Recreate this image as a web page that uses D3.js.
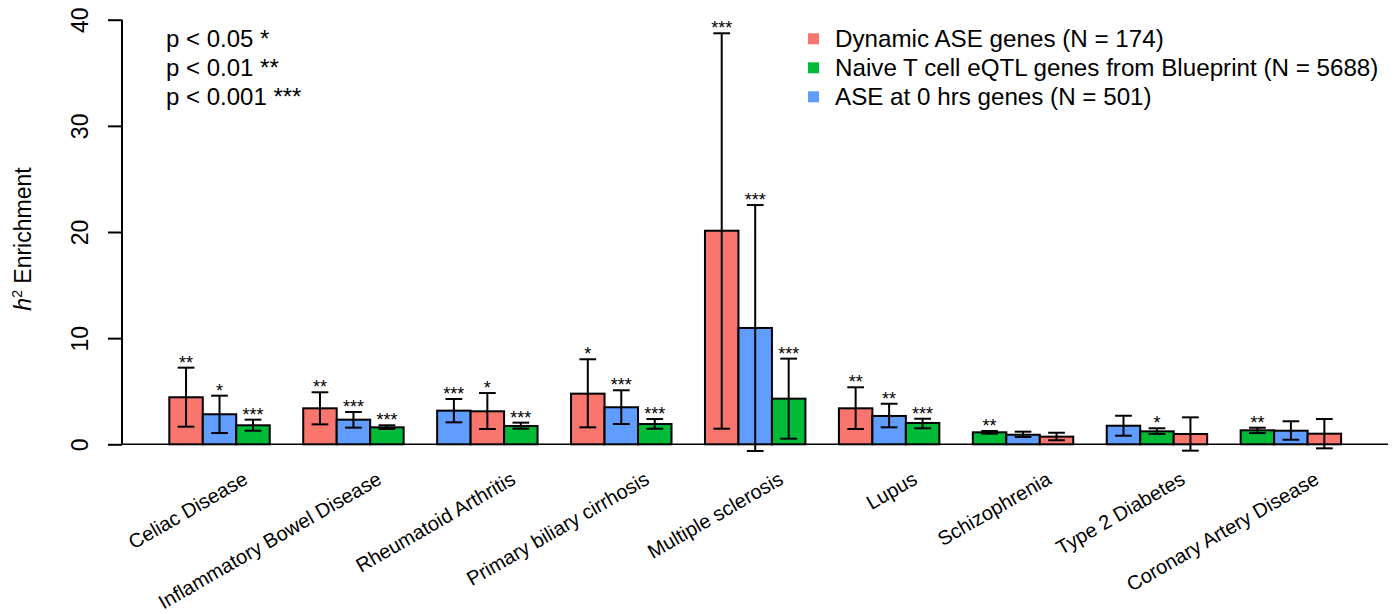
<!DOCTYPE html>
<html>
<head>
<meta charset="utf-8">
<script src="https://cdn.jsdelivr.net/npm/d3@7"></script>
<style>
  html, body { margin: 0; padding: 0; background: #fff; }
  svg { display: block; font-family: "Liberation Sans", Arial, Helvetica, sans-serif; }
</style>
</head>
<body>
<svg id="chart" width="1395" height="614"></svg>
<script>
const diseases = ["Celiac Disease", "Inflammatory Bowel Disease", "Rheumatoid Arthritis",
  "Primary biliary cirrhosis", "Multiple sclerosis", "Lupus", "Schizophrenia",
  "Type 2 Diabetes", "Coronary Artery Disease"];

const seriesNames = ["Dynamic ASE genes (N = 174)",
  "Naive T cell eQTL genes from Blueprint (N = 5688)",
  "ASE at 0 hrs genes (N = 501)"];
const seriesColors = ["#F8766D", "#00BA38", "#619CFF"];

const dynamicVals = [4.43, 3.39, 3.11, 4.77, 20.12, 3.39, 0.72, 0.97, 1.00];
const dynamicLo   = [1.66, 1.88, 1.44, 1.60, 1.47, 1.44, 0.38, -0.60, -0.38];
const dynamicHi   = [7.22, 4.90, 4.83, 8.01, 38.72, 5.37, 1.09, 2.54, 2.38];
const dynamicSig  = ["**", "**", "*", "*", "***", "**", "", "", ""];

const naiveVals = [1.79, 1.60, 1.72, 1.91, 4.30, 2.01, 1.13, 1.22, 1.32];
const naiveLo   = [1.28, 1.44, 1.47, 1.47, 0.53, 1.51, 1.00, 0.97, 1.06];
const naiveHi   = [2.32, 1.79, 2.04, 2.38, 8.07, 2.41, 1.25, 1.51, 1.56];
const naiveSig  = ["***", "***", "***", "***", "***", "***", "**", "*", "**"];

const ase0Vals = [2.83, 2.32, 3.17, 3.49, 10.96, 2.67, 0.90, 1.75, 1.28];
const ase0Lo   = [1.06, 1.57, 2.07, 1.91, -0.63, 1.60, 0.69, 0.81, 0.43];
const ase0Hi   = [4.58, 3.04, 4.27, 5.09, 22.54, 3.82, 1.19, 2.69, 2.17];
const ase0Sig  = ["*", "***", "***", "***", "***", "**", "", "", ""];

const yTicks = [0, 10, 20, 30, 40];
const pLegend = ["p < 0.05 *", "p < 0.01 **", "p < 0.001 ***"];

const series = [
  {vals: dynamicVals, lo: dynamicLo, hi: dynamicHi, sig: dynamicSig},
  {vals: naiveVals, lo: naiveLo, hi: naiveHi, sig: naiveSig},
  {vals: ase0Vals, lo: ase0Lo, hi: ase0Hi, sig: ase0Sig}
];

// Build per-bar records; within each disease bars are sorted by value (descending)
const bars = [];
diseases.forEach((d, i) => {
  const recs = series.map((s, k) => ({disease: d, series: k, value: s.vals[i], lo: s.lo[i], hi: s.hi[i], sig: s.sig[i]}));
  recs.sort((a, b) => b.value - a.value);
  recs.forEach((r, pos) => { r.pos = pos; bars.push(r); });
});

const svg = d3.select("#chart");

const y = d3.scaleLinear().domain([0, 40]).range([444.3, 19.7]);
const x0 = d3.scaleBand().domain(diseases).range([169.3, 1341.1]).paddingInner(0.25).paddingOuter(0);
const x1 = d3.scaleBand().domain([0, 1, 2]).range([0, x0.bandwidth()]);

// baseline
svg.append("line")
  .attr("x1", 122).attr("x2", 1388)
  .attr("y1", y(0)).attr("y2", y(0))
  .attr("stroke", "#000").attr("stroke-width", 1.5);

// y axis
const yAxis = svg.append("g").attr("transform", "translate(122,0)")
  .call(d3.axisLeft(y).tickValues(yTicks).tickSize(14).tickFormat(d3.format("d")));
yAxis.select(".domain").attr("stroke-width", 2).attr("d", `M0,${y(0)}V${y(40)}`);
yAxis.selectAll(".tick line").attr("stroke-width", 2);
yAxis.selectAll(".tick text")
  .attr("x", null).attr("dy", null)
  .attr("transform", "translate(-34,0) rotate(-90)")
  .attr("text-anchor", "middle")
  .attr("fill", "#000")
  .style("font-size", "23px")
  .style("font-family", "'Liberation Sans', Arial, sans-serif");

// bars
const barG = svg.append("g");
barG.selectAll("rect").data(bars).join("rect")
  .attr("x", d => x0(d.disease) + x1(d.pos))
  .attr("width", x1.bandwidth())
  .attr("y", d => y(d.value))
  .attr("height", d => y(0) - y(d.value))
  .attr("fill", d => seriesColors[d.series])
  .attr("stroke", "#000").attr("stroke-width", 2);

// error bars
const errG = svg.append("g").attr("stroke", "#000").attr("stroke-width", 2);
const cx = d => x0(d.disease) + x1(d.pos) + x1.bandwidth() / 2;
const capW = x1.bandwidth() / 4;
errG.selectAll("line.v").data(bars).join("line").attr("class", "v")
  .attr("x1", cx).attr("x2", cx).attr("y1", d => y(d.lo)).attr("y2", d => y(d.hi));
errG.selectAll("line.t").data(bars).join("line").attr("class", "t")
  .attr("x1", d => cx(d) - capW).attr("x2", d => cx(d) + capW)
  .attr("y1", d => y(d.hi)).attr("y2", d => y(d.hi));
errG.selectAll("line.b").data(bars).join("line").attr("class", "b")
  .attr("x1", d => cx(d) - capW).attr("x2", d => cx(d) + capW)
  .attr("y1", d => y(d.lo)).attr("y2", d => y(d.lo));

// significance stars
svg.append("g").selectAll("text").data(bars.filter(d => d.sig)).join("text")
  .attr("x", cx).attr("y", d => y(d.hi) + 1)
  .attr("text-anchor", "middle")
  .style("font-size", "18px")
  .text(d => d.sig);

// x labels
svg.append("g").selectAll("text").data(diseases).join("text")
  .attr("transform", d => `translate(${x0(d) + x0.bandwidth() / 2 + 29.5},483) rotate(-30)`)
  .attr("text-anchor", "end")
  .style("font-size", "20px")
  .text(d => d);

// y label
const yl = svg.append("text")
  .attr("transform", "translate(31,239) rotate(-90)")
  .attr("text-anchor", "middle")
  .style("font-size", "23px");
yl.append("tspan").style("font-style", "italic").text("h");
yl.append("tspan").attr("dy", -9).style("font-size", "14px").text("2");
yl.append("tspan").attr("dy", 9).text(" Enrichment");

// p-value legend
svg.append("g").selectAll("text").data(pLegend).join("text")
  .attr("x", 166).attr("y", (d, i) => 47 + i * 29)
  .style("font-size", "24px")
  .text(d => d);

// series legend
const lg = svg.append("g");
seriesNames.forEach((name, i) => {
  lg.append("rect").attr("x", 808).attr("y", 33.3 + i * 29).attr("width", 11).attr("height", 11)
    .attr("fill", seriesColors[i]);
  lg.append("text").attr("x", 835).attr("y", 46.7 + i * 29)
    .style("font-size", "24.2px").text(name);
});
</script>
</body>
</html>
